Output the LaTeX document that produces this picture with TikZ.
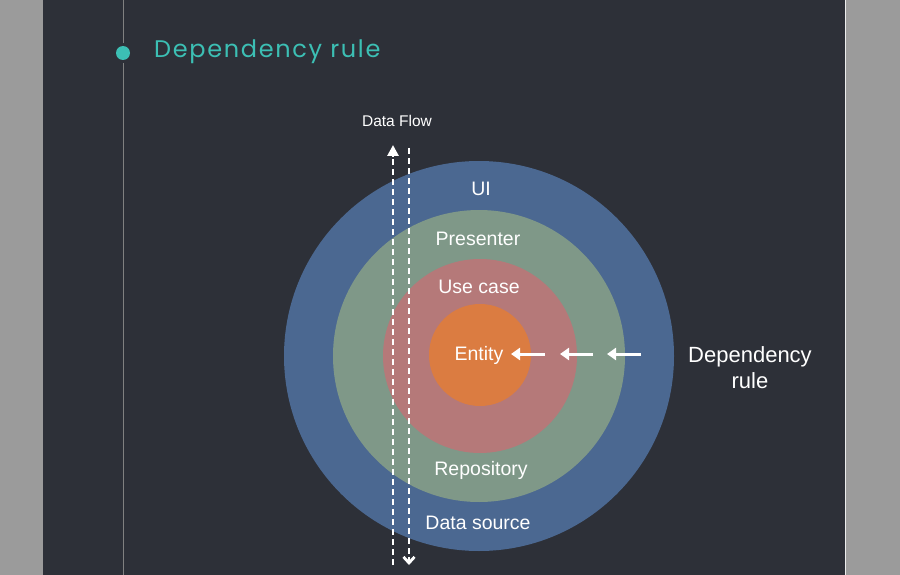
\documentclass[tikz,border=0pt]{standalone}
\usepackage{fontspec}
\setmainfont{Liberation Sans}
\newfontfamily\titlefont[LetterSpace=7]{Poppins}
\usetikzlibrary{arrows.meta,calc}
\definecolor{sidegray}{HTML}{9B9B9B}
\definecolor{panel}{HTML}{2D3038}
\definecolor{teal}{HTML}{3CBFB4}
\definecolor{ringblue}{HTML}{4B6891}
\definecolor{ringgreen}{HTML}{7F9888}
\definecolor{ringred}{HTML}{B57979}
\definecolor{ringorange}{HTML}{DB7C41}
\tikzset{
  lbl/.style={text=white, font=\fontsize{19.5}{23}\selectfont, inner sep=0pt},
  deparrow/.style={white, line width=3pt, -{Triangle[length=9pt,width=12pt]}},
  flow/.style={white, line width=2.8pt, dash pattern=on 6pt off 4pt},
}
\begin{document}
\begin{tikzpicture}[x=1pt,y=-1pt]
\useasboundingbox (0,0) rectangle (900,575);
\fill[sidegray] (0,0) rectangle (900,575);
\fill[panel] (43,0) rectangle (845,575);
\draw[white!85!gray, line width=1pt] (845.5,0) -- (845.5,575);
\draw[gray, line width=1pt] (123,0) -- (123,575);
\fill[panel] (123,53) circle (10);
\fill[teal] (123,53) circle (7);
\node[anchor=west, text=teal, font=\titlefont\fontsize{24}{28}\selectfont, inner sep=0pt] (title) at (154,52) {Dependency rule};
% rings
\fill[ringblue] (479,356) circle (195);
\fill[ringgreen] (479,356) circle (146);
\fill[ringred] (480,356) circle (97);
\fill[ringorange] (480,355) circle (51);
\node[lbl] (ui) at (481,189) {UI};
\node[lbl] (presenter) at (478,239) {Presenter};
\node[lbl] (usecase) at (479,287) {Use case};
\node[lbl] (entity) at (479,355) {Entity};
\node[lbl] (repo) at (481,470) {Repository};
\node[lbl] (source) at (478,523) {Data source};
\node[text=white, font=\fontsize{22}{26}\selectfont, align=center, inner sep=0pt] (dep) at (750,368) {Dependency\\rule};
% dependency arrows
\coordinate (a1s) at (545,354); \coordinate (a1e) at (511,354);
\coordinate (a2s) at (593,354); \coordinate (a2e) at (560,354);
\coordinate (a3s) at (641,354); \coordinate (a3e) at (607,354);
\draw[deparrow] (a1s) -- (a1e);
\draw[deparrow] (a2s) -- (a2e);
\draw[deparrow] (a3s) -- (a3e);
% data flow
\node[text=white, font=\fontsize{15.5}{18}\selectfont, inner sep=0pt] (df) at (397,121) {Data Flow};
\coordinate (upS) at (393,565); \coordinate (upE) at (393,145);
\coordinate (dnS) at (409,148); \coordinate (dnE) at (409,565);
\draw[flow] (upS) -- ($(upE)+(0,10)$);
\draw[white, line width=2.8pt, -{Triangle[length=11pt,width=11pt]}] ($(upE)+(0,12)$) -- (upE);
\draw[flow] (dnS) -- ($(dnE)+(0,-3)$);
\draw[white, line width=2.8pt, -{Straight Barb[length=6pt,width=11pt]}] ($(dnE)+(0,-8)$) -- (dnE);
\end{tikzpicture}
\end{document}
